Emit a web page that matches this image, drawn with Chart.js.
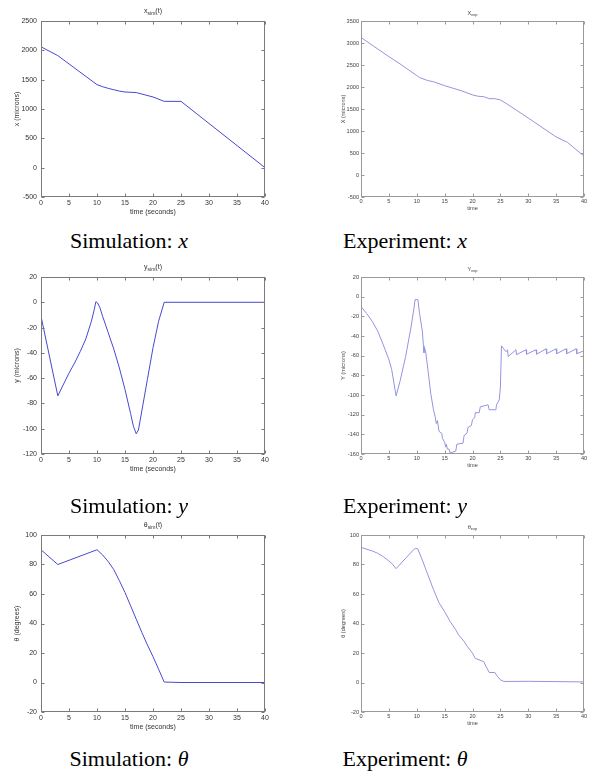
<!DOCTYPE html>
<html>
<head>
<meta charset="utf-8">
<script src="https://cdn.jsdelivr.net/npm/chart.js@4/dist/chart.umd.min.js"></script>
<style>
  body { margin: 0; background: #fff; width: 597px; height: 775px; position: relative; overflow: hidden; }
  canvas { position: absolute; }
  .cap { position: absolute; font-family: "Liberation Serif", "Times New Roman", serif; font-size: 22px;
         line-height: 22px; color: #000; white-space: nowrap; transform: translateX(-50%); }
</style>
</head>
<body>
<canvas id="simX"></canvas>
<canvas id="expX"></canvas>
<canvas id="simY"></canvas>
<canvas id="expY"></canvas>
<canvas id="simTh"></canvas>
<canvas id="expTh"></canvas>

<div class="cap" style="left:129px; top:230px">Simulation: <i>x</i></div>
<div class="cap" style="left:405px; top:230px">Experiment: <i>x</i></div>
<div class="cap" style="left:129px; top:495px">Simulation: <i>y</i></div>
<div class="cap" style="left:405px; top:495px">Experiment: <i>y</i></div>
<div class="cap" style="left:129px; top:748px">Simulation: <i>θ</i></div>
<div class="cap" style="left:405px; top:748px">Experiment: <i>θ</i></div>

<script>
// ---- data ----
const xTicksTime = [0, 40, 5];   // min, max, step

const simXTime = [0, 3, 10, 11, 12, 13, 14, 15, 17, 20, 22, 25, 40];
const simXVals = [2060, 1910, 1415, 1380, 1352, 1328, 1305, 1290, 1280, 1205, 1130, 1130, 0];

const expXTime = [0, 5, 7, 10, 10.5, 12, 13, 15, 18, 20, 21, 22, 23, 24, 25, 26, 30, 35, 37, 40];
const expXVals = [3125, 2690, 2525, 2260, 2215, 2145, 2120, 2030, 1915, 1820, 1790, 1780, 1735, 1735, 1705, 1630, 1295, 865, 745, 430];

const simYTime = [0, 3, 5, 6, 7, 8, 9, 9.5, 9.8, 10.1, 10.5, 11, 12, 13, 14, 15, 16, 16.5, 17, 17.4, 18, 19, 20, 21, 22, 40];
const simYVals = [-11, -74, -56, -48, -39, -29, -15, -6, 0.5, -0.5, -4, -11, -24, -37, -52, -69, -88, -98, -104, -101, -86, -61, -36, -15, 0, 0];

const expYTime = [0, 1, 2, 3, 4, 5, 5.5, 6.3, 7, 8, 9, 9.5, 9.7, 10.2, 10.5, 11, 11.2, 11.3, 11.4, 11.6, 12, 12.5, 13,
  13.3, 13.5, 13.7, 14, 14.5, 14.6, 15, 15.2, 15.3, 15.5, 15.8, 16, 17, 17.2, 18.3, 18.5, 19, 19.2, 19.8, 20, 20.4,
  20.5, 21.2, 21.4, 22.8, 23, 24.2, 24.3, 24.8, 25, 25.2, 25.6, 26, 26.3, 26.4, 27.8, 27.9, 29.6, 29.7, 31.4, 31.5,
  33.2, 33.3, 35, 35.1, 36.8, 36.9, 38.6, 38.7, 40];
const expYVals = [-10, -17, -25, -35, -49, -64, -74, -101, -86, -61, -30, -12, -3, -3, -17, -35, -50, -57, -52, -56, -74, -98, -115,
  -122, -129, -126, -137, -139, -144, -148, -153, -150, -155, -155, -159, -157, -150, -149, -141, -139, -133, -131, -125, -123,
  -118, -118, -112, -110, -115, -115, -110, -105, -92, -50, -53, -56, -54, -61, -54, -59, -54, -58.5, -54, -58.5,
  -53, -58, -53, -58, -53, -58, -53, -58, -55];

const simThTime = [0, 3, 10, 11, 12, 13, 14, 15, 16, 17, 18, 19, 20, 21, 22, 25, 40];
const simThVals = [90, 80, 90, 86.5, 82, 76.5, 69, 61, 52, 43, 34, 25.5, 17.5, 9, 0.3, 0, 0];

const expThTime = [0, 2, 3, 4, 5, 5.5, 6.3, 8, 9.5, 9.8, 10.2, 11, 12, 13, 14, 15, 16, 17, 17.5, 18.5, 19, 20, 20.5,
  21.5, 22, 22.5, 23, 24, 24.5, 25, 25.5, 26, 30, 40];
const expThVals = [91.6, 89.2, 87.6, 85.3, 82.4, 80.8, 77.2, 84.2, 90.3, 91, 90.5, 83, 73, 63, 54, 48, 41.3, 35.7, 32.3,
  27.8, 24.8, 19.9, 16.3, 14.9, 14.2, 10.4, 6.8, 6.8, 4, 1.8, 0.9, 0.7, 0.8, 0.4];

// ---- MATLAB-like box, inward ticks, title and axis labels ----
const matlabBox = {
  id: 'matlabBox',
  afterDraw(chart, args, o) {
    const { ctx, chartArea: a, scales: { x, y } } = chart;
    const L = Math.round(a.left) + 0.5, R = Math.round(a.right) - 0.5;
    const T = Math.round(a.top) + 0.5, B = Math.round(a.bottom) - 0.5;
    ctx.save();
    ctx.strokeStyle = o.frame;
    ctx.lineWidth = 1;
    ctx.strokeRect(L, T, R - L, B - T);
    ctx.beginPath();
    x.ticks.forEach(t => {
      const px = Math.round(x.getPixelForValue(t.value)) + 0.5;
      ctx.moveTo(px, B); ctx.lineTo(px, B - 3);
      ctx.moveTo(px, T); ctx.lineTo(px, T + 3);
    });
    y.ticks.forEach(t => {
      const py = Math.round(y.getPixelForValue(t.value)) + 0.5;
      ctx.moveTo(L, py); ctx.lineTo(L + 3, py);
      ctx.moveTo(R, py); ctx.lineTo(R - 3, py);
    });
    ctx.stroke();

    // title with subscript
    ctx.fillStyle = o.text;
    ctx.textBaseline = 'middle';
    const f = o.size, fam = '"Liberation Sans", Arial, sans-serif';
    const big = f + 'px ' + fam, small = (f * 0.72) + 'px ' + fam;
    ctx.font = big;
    const w1 = ctx.measureText(o.title[0]).width, w3 = ctx.measureText(o.title[2]).width;
    ctx.font = small;
    const w2 = ctx.measureText(o.title[1]).width;
    let cx = (a.left + a.right) / 2 - (w1 + w2 + w3) / 2;
    const ty = a.top - o.titleOff;
    ctx.textAlign = 'left';
    ctx.font = big; ctx.fillText(o.title[0], cx, ty); cx += w1;
    ctx.font = small; ctx.fillText(o.title[1], cx, ty + f * 0.35); cx += w2;
    ctx.font = big; ctx.fillText(o.title[2], cx, ty);

    // x label
    ctx.font = big;
    ctx.textAlign = 'center';
    ctx.fillText(o.xLabel, (a.left + a.right) / 2, a.bottom + o.xLabelOff);
    // y label
    ctx.translate(a.left - o.yLabelOff, (a.top + a.bottom) / 2);
    ctx.rotate(-Math.PI / 2);
    ctx.fillText(o.yLabel, 0, 0);
    ctx.restore();
  }
};

function panel(id, left, top, w, h, time, vals, yMin, yMax, yStep, sty) {
  const PL = 40, PT = 20, PR = 10, PB = 30;
  const el = document.getElementById(id);
  el.width = w + PL + PR;
  el.height = h + PT + PB;
  el.style.left = (left - PL) + 'px';
  el.style.top = (top - PT) + 'px';
  const tickFont = { family: '"Liberation Sans", Arial, sans-serif', size: sty.size };
  new Chart(el, {
    type: 'line',
    data: {
      datasets: [{
        data: time.map((t, i) => ({ x: t, y: vals[i] })),
        borderColor: sty.line,
        borderWidth: 1,
        pointRadius: 0,
        tension: 0,
        fill: false
      }]
    },
    options: {
      responsive: false,
      animation: false,
      devicePixelRatio: 1,
      layout: { padding: { left: 0, right: PR, top: PT, bottom: 0 } },
      plugins: {
        legend: { display: false },
        tooltip: { enabled: false },
        matlabBox: sty
      },
      scales: {
        x: {
          type: 'linear', min: xTicksTime[0], max: xTicksTime[1],
          ticks: { stepSize: xTicksTime[2], font: tickFont, color: sty.text, padding: 1.5, maxRotation: 0,
                   autoSkip: false, callback: v => String(v) },
          grid: { display: false, drawTicks: false },
          border: { display: false },
          afterFit(s) { s.height = PB; s.paddingLeft = 0; s.paddingRight = 0; }
        },
        y: {
          min: yMin, max: yMax,
          ticks: { stepSize: yStep, font: tickFont, color: sty.text, padding: sty.yPad,
                   autoSkip: false, callback: v => String(v) },
          grid: { display: false, drawTicks: false },
          border: { display: false },
          afterFit(s) { s.width = PL; s.paddingTop = 0; s.paddingBottom = 0; }
        }
      }
    },
    plugins: [matlabBox]
  });
}

const simStyle = { line: '#4848d0', frame: '#7a7a7a', text: '#333', size: 7, yPad: 4,
                   titleOff: 10, xLabelOff: 15.5, yLabelOff: 24 };
const expStyle = { line: '#9494e0', frame: '#9a9a9a', text: '#444', size: 5.6, yPad: 2,
                   titleOff: 8, xLabelOff: 11.5, yLabelOff: 18 };

panel('simX', 41, 21, 224, 176, simXTime, simXVals, -500, 2500, 500,
  Object.assign({}, simStyle, { title: ['x', 'sim', '(t)'], xLabel: 'time (seconds)', yLabel: 'x (microns)' }));
panel('expX', 361, 21, 223, 176, expXTime, expXVals, -500, 3500, 500,
  Object.assign({}, expStyle, { title: ['X', 'exp', ''], xLabel: 'time', yLabel: 'X (microns)' }));
panel('simY', 41, 277, 224, 177, simYTime, simYVals, -120, 20, 20,
  Object.assign({}, simStyle, { title: ['y', 'sim', '(t)'], xLabel: 'time (seconds)', yLabel: 'y (microns)' }));
panel('expY', 361, 277, 223, 177, expYTime, expYVals, -160, 20, 20,
  Object.assign({}, expStyle, { title: ['Y', 'exp', ''], xLabel: 'time', yLabel: 'Y (microns)' }));
panel('simTh', 41, 535, 224, 177, simThTime, simThVals, -20, 100, 20,
  Object.assign({}, simStyle, { title: ['θ', 'sim', '(t)'], xLabel: 'time (seconds)', yLabel: 'θ (degrees)' }));
panel('expTh', 361, 535, 223, 177, expThTime, expThVals, -20, 100, 20,
  Object.assign({}, expStyle, { title: ['θ', 'exp', ''], xLabel: 'time', yLabel: 'θ (degrees)' }));
</script>
</body>
</html>
